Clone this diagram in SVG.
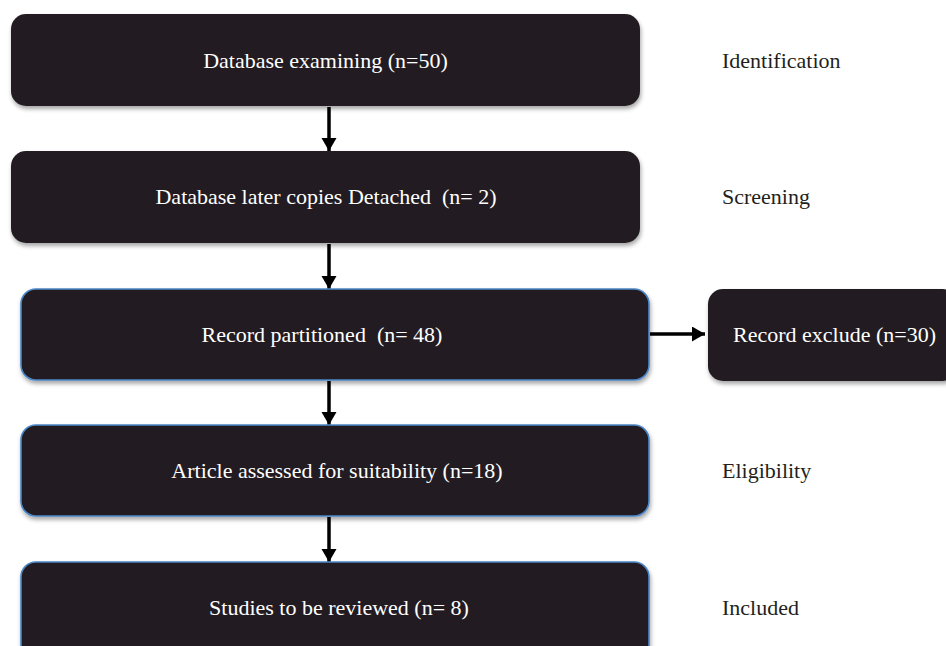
<svg xmlns="http://www.w3.org/2000/svg" width="946" height="646" viewBox="0 0 946 646">
  <style>
    .box { fill: #231f20; filter: url(#sh); }
    .blue { stroke: #4a86c8; stroke-width: 1.6; }
    .t { font-size: 22px; fill: #ffffff; text-anchor: middle; white-space: pre; }
    .lbl { font-size: 22px; fill: #231f20; }
    .conn { stroke: #000000; stroke-width: 3.5; fill: none; marker-end: url(#ah); }
  </style>
  <defs>
    <filter id="sh" x="-5%" y="-10%" width="110%" height="130%">
      <feDropShadow dx="1" dy="3" stdDeviation="2" flood-color="#000000" flood-opacity="0.35"/>
    </filter>
    <marker id="ah" markerUnits="userSpaceOnUse" markerWidth="16" markerHeight="16" refX="13" refY="7.5" orient="auto">
      <path d="M0,0 L13,7.5 L0,15 Z" fill="#000000"/>
    </marker>
  </defs>
  <rect width="946" height="646" fill="#ffffff"/>

  <g id="connectors">
    <line class="conn" x1="329" y1="107" x2="329" y2="151"/>
    <line class="conn" x1="329" y1="244" x2="329" y2="289"/>
    <line class="conn" x1="329" y1="381" x2="329" y2="425"/>
    <line class="conn" x1="329" y1="517" x2="329" y2="562"/>
    <line class="conn" x1="650" y1="334" x2="705" y2="334"/>
  </g>

  <g font-family="Liberation Serif, DejaVu Serif, serif">
  <g id="n1">
    <rect class="box" x="11" y="14" width="629" height="92" rx="15"/>
    <text class="t" x="325.5" y="68">Database examining (n=50)</text>
  </g>
  <g id="n2">
    <rect class="box" x="11" y="151" width="629" height="92" rx="15"/>
    <text class="t" x="326" y="204">Database later copies Detached  (n= 2)</text>
  </g>
  <g id="n3">
    <rect class="box blue" x="21" y="289" width="628" height="91" rx="15"/>
    <text class="t" x="322" y="342">Record partitioned  (n= 48)</text>
  </g>
  <g id="n4">
    <rect class="box blue" x="21" y="425" width="628" height="91" rx="15"/>
    <text class="t" x="337" y="478">Article assessed for suitability (n=18)</text>
  </g>
  <g id="n5">
    <rect class="box blue" x="21" y="562" width="628" height="100" rx="15"/>
    <text class="t" x="339" y="615">Studies to be reviewed (n= 8)</text>
  </g>
  <g id="n6">
    <rect class="box" x="708" y="289" width="250" height="92" rx="15"/>
    <text class="t" x="834.5" y="342">Record exclude (n=30)</text>
  </g>

  <g id="labels">
    <text class="lbl" x="722" y="68">Identification</text>
    <text class="lbl" x="722" y="204">Screening</text>
    <text class="lbl" x="722" y="478">Eligibility</text>
    <text class="lbl" x="722" y="615">Included</text>
  </g>
  </g>
</svg>
